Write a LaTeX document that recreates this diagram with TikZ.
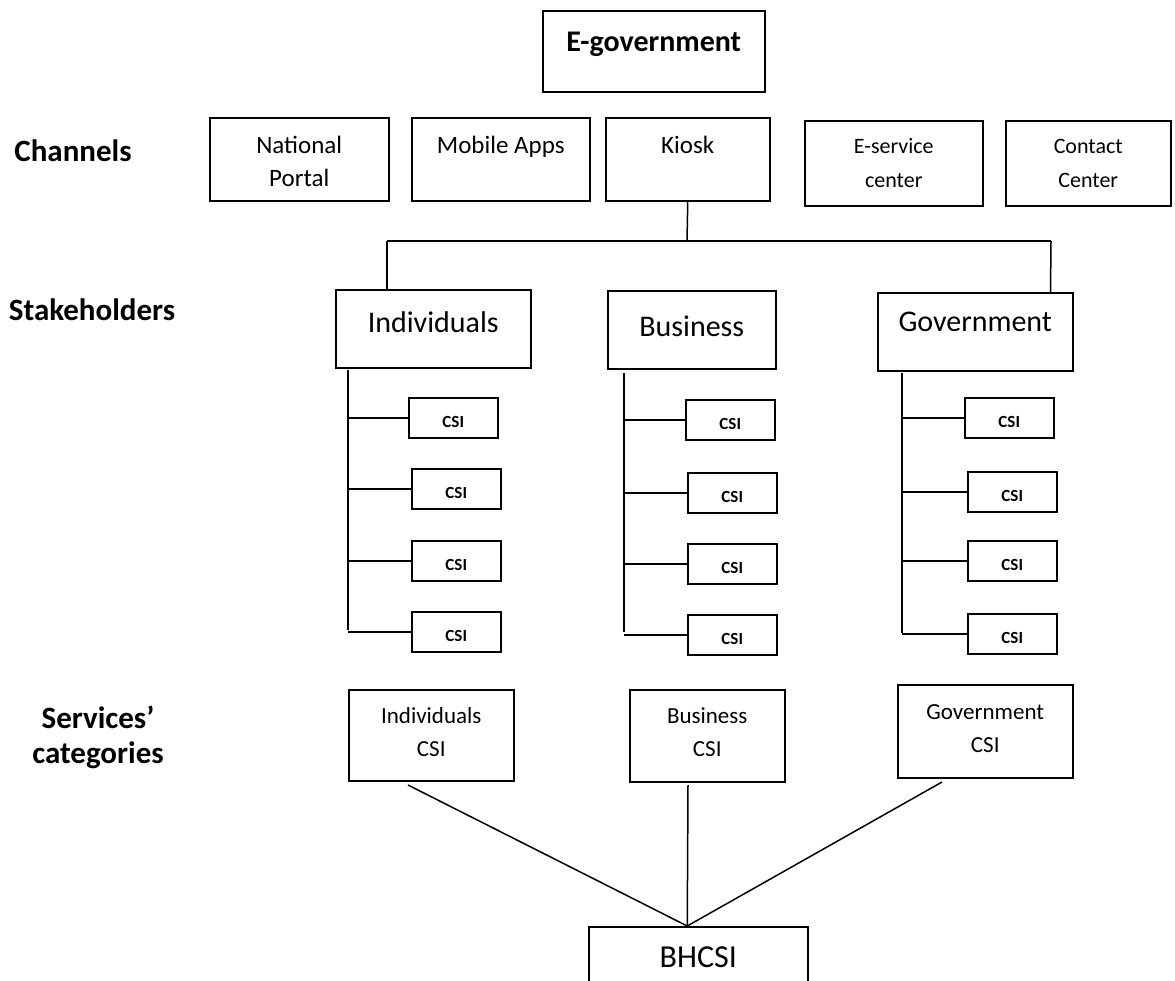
\documentclass[tikz,border=0pt]{standalone}
\usepackage{fontspec}
\setmainfont{Carlito}
\usepackage{tikz}
\usetikzlibrary{calc}

\begin{document}
\begin{tikzpicture}[x=1pt,y=-1pt,line width=1.5pt,
  box/.style={draw,inner sep=0pt,align=center,anchor=north west},
  csibox/.style={box,minimum width=89pt,text height=30pt,text depth=10pt,font=\fontsize{17}{20}\selectfont\bfseries},
  lbl/.style={inner sep=0pt,align=center,font=\fontsize{31}{35}\selectfont\bfseries}]
\useasboundingbox (0,0) rectangle (1175,980);

\node[box,minimum width=222pt,text height=41pt,text depth=40pt,font=\fontsize{30}{36}\selectfont\bfseries] (egov) at (542,10) {E-government};

\node[lbl,anchor=base] (chlbl) at (73,161) {Channels};
\node[lbl,anchor=base] (stlbl) at (92,320) {Stakeholders};
\node[lbl,anchor=base] (svlbl) at (98,763) {Services'\\categories};

\node[box,minimum width=179pt,text height=69pt,text depth=14pt,font=\fontsize{25}{33}\selectfont] (np) at (209,117) {National\\Portal};
\node[box,minimum width=178pt,text height=36pt,text depth=47pt,font=\fontsize{25}{33}\selectfont] (mob) at (411,117) {Mobile Apps};
\node[box,minimum width=164pt,text height=36pt,text depth=47pt,font=\fontsize{25}{33}\selectfont] (kio) at (605,117) {Kiosk};
\node[box,minimum width=178pt,text height=67pt,text depth=18pt,font=\fontsize{22}{34}\selectfont] (esv) at (804,120) {E-service\\center};
\node[box,minimum width=165pt,text height=67pt,text depth=18pt,font=\fontsize{22}{34}\selectfont] (cc) at (1005,120) {Contact\\Center};

\node[box,minimum width=195pt,text height=43pt,text depth=35pt,font=\fontsize{30}{36}\selectfont] (ind) at (335,289) {Individuals};
\node[box,minimum width=168pt,text height=46pt,text depth=32pt,font=\fontsize{30}{36}\selectfont] (bus) at (607,290) {Business};
\node[box,minimum width=195pt,text height=39pt,text depth=39pt,font=\fontsize{30}{36}\selectfont] (gov) at (877,292) {Government};

\coordinate (kb) at (687,241);
\coordinate (bl) at (387,241);
\coordinate (br) at (1051,241);
\draw (kio.south) -- (kb);
\draw (bl) -- (br);
\draw (bl) -- (bl |- ind.north);
\draw (br) -- ([xshift=-23pt]gov.north east);

\node[csibox] (i1) at (408,397) {CSI};
\node[csibox] (i2) at (411,468) {CSI};
\node[csibox] (i3) at (411,540) {CSI};
\node[csibox] (i4) at (411,611) {CSI};
\node[csibox] (b1) at (685,399) {CSI};
\node[csibox] (b2) at (687,472) {CSI};
\node[csibox] (b3) at (687,543) {CSI};
\node[csibox] (b4) at (687,614) {CSI};
\node[csibox] (g1) at (964,397) {CSI};
\node[csibox] (g2) at (967,471) {CSI};
\node[csibox] (g3) at (967,540) {CSI};
\node[csibox] (g4) at (967,613) {CSI};

\coordinate (itop) at (348,370);
\coordinate (ibot) at (348,630);
\coordinate (btop) at (624,373);
\coordinate (bbot) at (624,632);
\coordinate (gtop) at (902,373);
\coordinate (gbot) at (902,633);
\draw (itop) -- (ibot);
\draw (btop) -- (bbot);
\draw (gtop) -- (gbot);
\foreach \n in {1,2,3,4} {
  \draw (i\n.west -| itop) -- (i\n.west);
  \draw (b\n.west -| btop) -- (b\n.west);
  \draw (g\n.west -| gtop) -- (g\n.west);
}

\node[box,minimum width=165pt,text height=67pt,text depth=24pt,font=\fontsize{23}{33}\selectfont] (icat) at (348,689) {Individuals\\CSI};
\node[box,minimum width=155pt,text height=67pt,text depth=25pt,font=\fontsize{23}{33}\selectfont] (bcat) at (629,689) {Business\\CSI};
\node[box,minimum width=175pt,text height=68pt,text depth=25pt,font=\fontsize{23}{33}\selectfont] (gcat) at (897,684) {Government\\CSI};

\node[box,minimum width=219pt,text height=41pt,text depth=30pt,font=\fontsize{32}{38}\selectfont] (bh) at (588,926) {BHCSI};

\coordinate (il) at (408,785);
\coordinate (bl2) at (688,785);
\coordinate (gl) at (942,782);
\draw (il) -- ([xshift=-11pt]bh.north);
\draw (bl2) -- ([xshift=-11pt]bh.north);
\draw (gl) -- ([xshift=-11pt]bh.north);
\end{tikzpicture}
\end{document}
